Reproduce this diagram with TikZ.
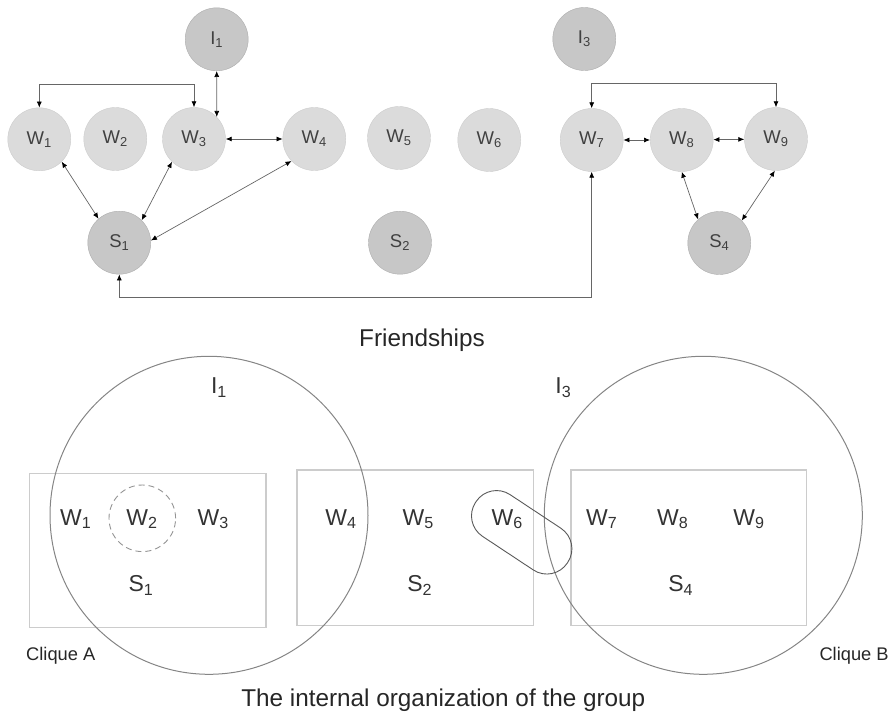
\documentclass[tikz,border=0pt]{standalone}
\usepackage{fontspec}
\setmainfont{Liberation Sans}
\usetikzlibrary{arrows.meta,calc}
\begin{document}
\begin{tikzpicture}[x=1pt,y=-1pt,
  wnode/.style={circle,minimum size=63pt,inner sep=0pt,draw=black!20,fill=black!14,font=\fontsize{18.5}{20}\selectfont,text=black!75},
  dnode/.style={wnode,draw=black!32,fill=black!22},
  link/.style={{Latex[length=6pt,width=5pt,color=black]}-{Latex[length=6pt,width=5pt,color=black]},draw=black!60,line width=0.7pt},
  lbl/.style={font=\fontsize{23}{25}\selectfont,text=black!80,anchor=base,inner sep=0pt},
  cliquelbl/.style={font=\fontsize{18.3}{20}\selectfont,text=black!85,anchor=base west,inner sep=0pt},
  caption/.style={font=\fontsize{24.3}{26}\selectfont,text=black!85,anchor=base,inner sep=0pt},
  bigcircle/.style={circle,draw=black!48,line width=1pt,minimum size=318pt,inner sep=0pt},
  cliquebox/.style={draw=black!20,line width=1.3pt},
]
\useasboundingbox (0,0) rectangle (895,714);

% ---------- Friendships ----------
\node[dnode] (I1) at (216.7,39.3) {I\textsubscript{1}};
\node[dnode] (I3) at (584.3,39) {I\textsubscript{3}};
\node[wnode] (W1) at (39.3,139.3) {W\textsubscript{1}};
\node[wnode] (W2) at (115.3,139) {W\textsubscript{2}};
\node[wnode] (W3) at (194,139) {W\textsubscript{3}};
\node[wnode] (W4) at (314.3,139) {W\textsubscript{4}};
\node[wnode] (W5) at (399,138) {W\textsubscript{5}};
\node[wnode] (W6) at (489.3,140) {W\textsubscript{6}};
\node[wnode] (W7) at (591.7,140) {W\textsubscript{7}};
\node[wnode] (W8) at (681.7,140) {W\textsubscript{8}};
\node[wnode] (W9) at (776,139) {W\textsubscript{9}};
\node[dnode] (S1) at (119.3,242.7) {S\textsubscript{1}};
\node[dnode] (S2) at (400,242.7) {S\textsubscript{2}};
\node[dnode] (S4) at (719.3,243) {S\textsubscript{4}};

\coordinate (topA) at (0,84);
\coordinate (topB) at (0,83.3);
\coordinate (bot) at (0,297.7);

\draw[link] (W1.north) -- (W1.north |- topA) -- (W3.north |- topA) -- (W3.north);
\draw[link] (I1.south) -- (W3.44);
\draw[link] (W3) -- (W4);
\draw[link] (W1.-45) -- (S1.131);
\draw[link] (W3.-134) -- (S1.45);
\draw[link] (W4.-136) -- (S1.4);
\draw[link] (S1.south) -- (S1.south |- bot) -- (W7.south |- bot) -- (W7.south);
\draw[link] (W7.north) -- (W7.north |- topB) -- (W9.north |- topB) -- (W9.north);
\draw[link] (W7) -- (W8);
\draw[link] (W8) -- (W9);
\draw[link] (W8.south) -- (S4.132);
\draw[link] (W9.-92) -- (S4.45);

\node[caption] (t1) at (422,346.7) {Friendships};

% ---------- Internal organization ----------
\draw[cliquebox] (29.3,473.3) rectangle (266,627.7);
\draw[cliquebox] (297,470) rectangle (533.3,625.7);
\draw[cliquebox] (571,470) rectangle (806.7,625.7);

\node[bigcircle] (cI1) at (209,515.3) {};
\node[bigcircle] (cI3) at (703.3,515.3) {};

\node[circle,draw=black!42,line width=0.9pt,dash pattern=on 6pt off 4pt,minimum size=66.6pt,inner sep=0pt] (dW2) at (142.3,518.3) {};
\node[draw=black!65,line width=0.9pt,rounded corners=24.5pt,minimum width=110pt,minimum height=50pt,inner sep=0pt,rotate=-33.5] (capW6) at (521.7,532.3) {};

\node[lbl] (bI1) at (219,393.5) {I\textsubscript{1}};
\node[lbl] (bI3) at (563.3,393.5) {I\textsubscript{3}};
\node[lbl] (bW1) at (75.8,525) {W\textsubscript{1}};
\node[lbl] (bW2) at (142,525) {W\textsubscript{2}};
\node[lbl] (bW3) at (213.3,525) {W\textsubscript{3}};
\node[lbl] (bS1) at (141,591.7) {S\textsubscript{1}};
\node[lbl] (bW4) at (341,525) {W\textsubscript{4}};
\node[lbl] (bW5) at (418.3,525) {W\textsubscript{5}};
\node[lbl] (bS2) at (419.7,591.7) {S\textsubscript{2}};
\node[lbl] (bW6) at (507.2,525) {W\textsubscript{6}};
\node[lbl] (bW7) at (601.7,525) {W\textsubscript{7}};
\node[lbl] (bW8) at (672.8,525) {W\textsubscript{8}};
\node[lbl] (bW9) at (749,525) {W\textsubscript{9}};
\node[lbl] (bS4) at (680.8,591.7) {S\textsubscript{4}};

\node[cliquelbl] (cA) at (26,660) {Clique A};
\node[cliquelbl] (cB) at (819.3,660) {Clique B};

\node[caption] (t2) at (443.3,706.7) {The internal organization of the group};
\end{tikzpicture}
\end{document}
